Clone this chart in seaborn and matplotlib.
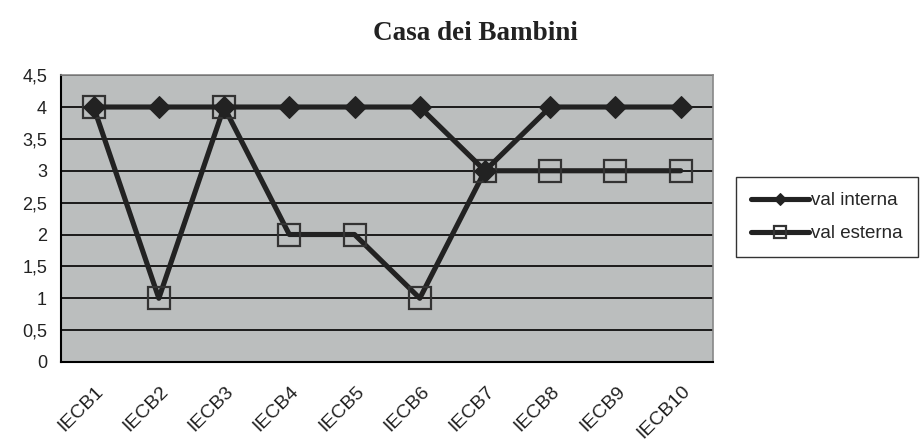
import matplotlib
matplotlib.use("Agg")
import matplotlib.pyplot as plt
import matplotlib.transforms as mtransforms
import seaborn as sns
import pandas as pd
from matplotlib.ticker import FixedLocator, FuncFormatter

categories = ["IECB1", "IECB2", "IECB3", "IECB4", "IECB5",
              "IECB6", "IECB7", "IECB8", "IECB9", "IECB10"]
val_interna = [4, 4, 4, 4, 4, 4, 3, 4, 4, 4]
val_esterna = [4, 1, 4, 2, 2, 1, 3, 3, 3, 3]
y_ticks = [0, 0.5, 1, 1.5, 2, 2.5, 3, 3.5, 4, 4.5]

df_int = pd.DataFrame({"cat": categories, "val": val_interna, "serie": "val interna"})
df_est = pd.DataFrame({"cat": categories, "val": val_esterna, "serie": "val esterna"})

sns.set_style("white")
plt.rcParams["font.family"] = ["Liberation Sans", "DejaVu Sans"]

fig = plt.figure(figsize=(9.24, 4.42), dpi=100)
ax = fig.add_axes([0.066, 0.181, 0.706, 0.649])
ax.set_facecolor("#bbbebe")

# esterna first so the diamonds sit on top of the squares
sns.lineplot(data=df_est, x="cat", y="val", ax=ax, color="#222222", lw=3.7,
             marker="s", markersize=16, markerfacecolor="none",
             markeredgecolor="#333333", markeredgewidth=1.6, label="val esterna",
             sort=False, zorder=3)
sns.lineplot(data=df_int, x="cat", y="val", ax=ax, color="#222222", lw=3.7,
             marker="D", markersize=11, markerfacecolor="#222222",
             markeredgecolor="#222222", label="val interna", sort=False, zorder=4)

ax.set_xlim(-0.5, len(categories) - 0.5)
ax.set_ylim(0, 4.5)
ax.set_xlabel("")
ax.set_ylabel("")

ax.yaxis.set_major_locator(FixedLocator(y_ticks))
ax.yaxis.set_major_formatter(FuncFormatter(lambda v, p: ("%g" % v).replace(".", ",")))
ax.grid(axis="y", color="black", lw=1.2)
ax.set_axisbelow(True)

ax.set_xticks(range(len(categories)))
ax.set_xticklabels(categories, rotation=45, ha="right", rotation_mode="anchor",
                   fontsize=14, color="#222222")
ax.set_xticks([i - 0.5 for i in range(len(categories) + 1)], minor=True)
ax.tick_params(axis="x", which="major", length=0, pad=15)
ax.tick_params(axis="x", which="minor", length=6, width=1.2, color="black", direction="out")
ax.tick_params(axis="y", length=6, width=1.2, color="black", direction="out",
               labelsize=13, labelcolor="#222222", pad=4)
shift = mtransforms.ScaledTranslation(1 / 100, 0, fig.dpi_scale_trans)
for lab in ax.get_xticklabels():
    lab.set_transform(lab.get_transform() + shift)

for s in ["left", "bottom"]:
    ax.spines[s].set_color("black")
    ax.spines[s].set_linewidth(1.5)
for s in ["top", "right"]:
    ax.spines[s].set_color("#888888")
    ax.spines[s].set_linewidth(1.2)

h, l = ax.get_legend_handles_labels()
order = [l.index("val interna"), l.index("val esterna")]
leg = ax.legend([h[i] for i in order], [l[i] for i in order],
                loc="center left", bbox_to_anchor=(1.035, 0.505), borderaxespad=0,
                frameon=True, fancybox=False, edgecolor="black", fontsize=13.5,
                handlelength=3.1, handletextpad=0.1, labelspacing=0.85,
                borderpad=0.8, markerscale=0.55)
leg.get_frame().set_linewidth(1.0)

fig.text(0.515, 0.925, "Casa dei Bambini", ha="center", va="center",
         fontsize=19.5, fontweight="bold", family=["Liberation Serif", "DejaVu Serif"],
         color="#222222")

fig.savefig("out.png", dpi=100)
